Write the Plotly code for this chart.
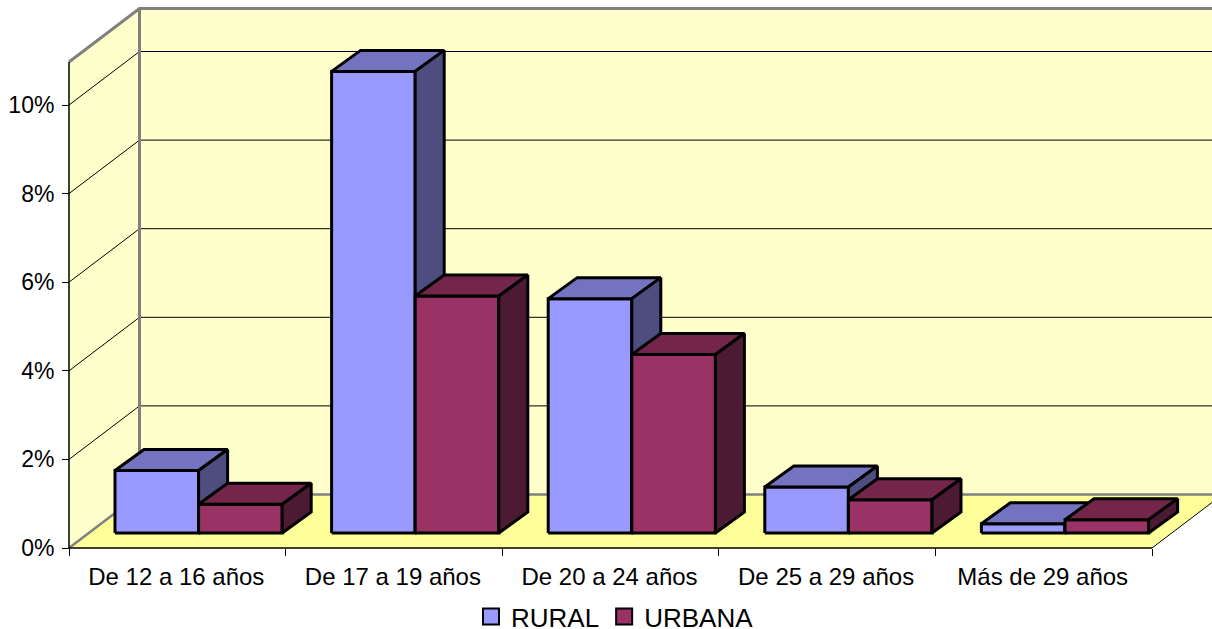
import plotly.graph_objects as go

categories = ["De 12 a 16 años", "De 17 a 19 años", "De 20 a 24 años", "De 25 a 29 años", "Más de 29 años"]
rural = [1.41, 10.42, 5.29, 1.04, 0.21]
urbana = [0.65, 5.35, 4.03, 0.75, 0.30]
y_ticks = [0, 2, 4, 6, 8, 10]
y_labels = ["0%", "2%", "4%", "6%", "8%", "10%"]
series = [("RURAL", rural, "#9999FF", "#7373BF", "#4D4D80"),
          ("URBANA", urbana, "#993366", "#732649", "#4D1A33")]

W, H = 1212, 629
PX_CAT, PX_PCT = 216.6, 44.3       # pixels per category / per percent
X0, Y0 = 69, 548                   # pixel of category 0 / 0%
TOP = 10.97
BACK = (70.5 / PX_CAT, 53.5 / PX_PCT)   # wall depth
BAR_OFF = (46 / PX_CAT, 15 / PX_PCT)  # bar front-left offset from the category's left edge
BAR_W = 83.6 / PX_CAT
BAR_D = (29 / PX_CAT, 21 / PX_PCT)
XMAX = (W - X0) / PX_CAT
N = len(categories)

fig = go.Figure()


def poly(xs, ys, fill, line="rgba(0,0,0,0)", width=0):
    fig.add_trace(go.Scatter(x=xs + xs[:1], y=ys + ys[:1], mode="lines", fill="toself", fillcolor=fill,
                             line=dict(color=line, width=width), showlegend=False, hoverinfo="skip"))


def seg(xs, ys, color, width):
    fig.add_trace(go.Scatter(x=xs, y=ys, mode="lines", line=dict(color=color, width=width),
                             showlegend=False, hoverinfo="skip"))


bx, by = BACK
floor_right = (XMAX - N) * by / bx
# walls and floor
poly([bx, XMAX, XMAX, bx], [by, by, TOP + by, TOP + by], "#FFFFCC")
poly([0, bx, bx, 0], [0, by, TOP + by, TOP], "#FFFFCC")
poly([0, bx, XMAX, XMAX, N], [0, by, by, floor_right, 0], "#FFFF99")
# gridlines
for v in y_ticks[1:]:
    seg([0, bx, XMAX], [v, v + by, v + by], "black", 1)
# wall borders
seg([0, bx, XMAX], [TOP, TOP + by, TOP + by], "#808080", 3)
seg([bx, bx], [by, TOP + by], "#808080", 3)
seg([0, bx, XMAX], [0, by, by], "#808080", 2.5)
seg([N, XMAX], [0, floor_right], "black", 1)
seg([0, 0], [0, TOP], "black", 1.5)
seg([0, N], [0, 0], "black", 1.5)

# bars
dx, dy = BAR_D
for i in range(N):
    for j, (name, vals, front, top, side) in enumerate(series):
        xl = i + BAR_OFF[0] + j * BAR_W
        xr = xl + BAR_W
        y0 = BAR_OFF[1]
        y1 = y0 + vals[i]
        poly([xl, xr, xr, xl], [y0, y0, y1, y1], front, "black", 3)
        poly([xl, xr, xr + dx, xl + dx], [y1, y1, y1 + dy, y1 + dy], top, "black", 3)
        poly([xr, xr + dx, xr + dx, xr], [y0, y0 + dy, y1 + dy, y1], side, "black", 3)

# legend entries
for name, vals, front, top, side in series:
    fig.add_trace(go.Scatter(x=[None], y=[None], mode="markers", name=name,
                             marker=dict(symbol="square", size=16, color=front,
                                         line=dict(color="black", width=2))))

font = dict(family="Liberation Sans, Arial, sans-serif", color="black")
fig.update_layout(
    width=W, height=H, margin=dict(l=0, r=0, t=0, b=0, autoexpand=False),
    paper_bgcolor="white", plot_bgcolor="white",
    font=dict(size=23, **font),
    xaxis=dict(range=[-X0 / PX_CAT, XMAX], anchor="free", position=(H - Y0) / H,
               showgrid=False, zeroline=False, showline=False, ticks="",
               tickmode="array", tickvals=[i + 0.5 - 1 / PX_CAT for i in range(N)], ticktext=categories,
               tickfont=dict(size=24, **font), ticklabelstandoff=12,
               minor=dict(tickmode="array", tickvals=list(range(N + 1)), ticks="outside",
                          ticklen=7, tickwidth=1, tickcolor="black")),
    yaxis=dict(range=[-(H - Y0) / PX_PCT, Y0 / PX_PCT], anchor="free", position=X0 / W,
               showgrid=False, zeroline=False, showline=False, ticks="outside", ticklen=7,
               tickwidth=1, tickcolor="black", tickmode="array", tickvals=y_ticks, ticktext=y_labels,
               tickfont=dict(size=23, **font), ticklabelstandoff=3),
    legend=dict(orientation="h", x=471 / W, xanchor="left", y=1 - 593 / H, yanchor="top",
                font=dict(size=26, **font), itemwidth=30,
                bgcolor="rgba(0,0,0,0)", traceorder="normal"),
)
fig.write_html("out.html", config={"displayModeBar": False},
               post_script="document.body.style.margin='0';")
